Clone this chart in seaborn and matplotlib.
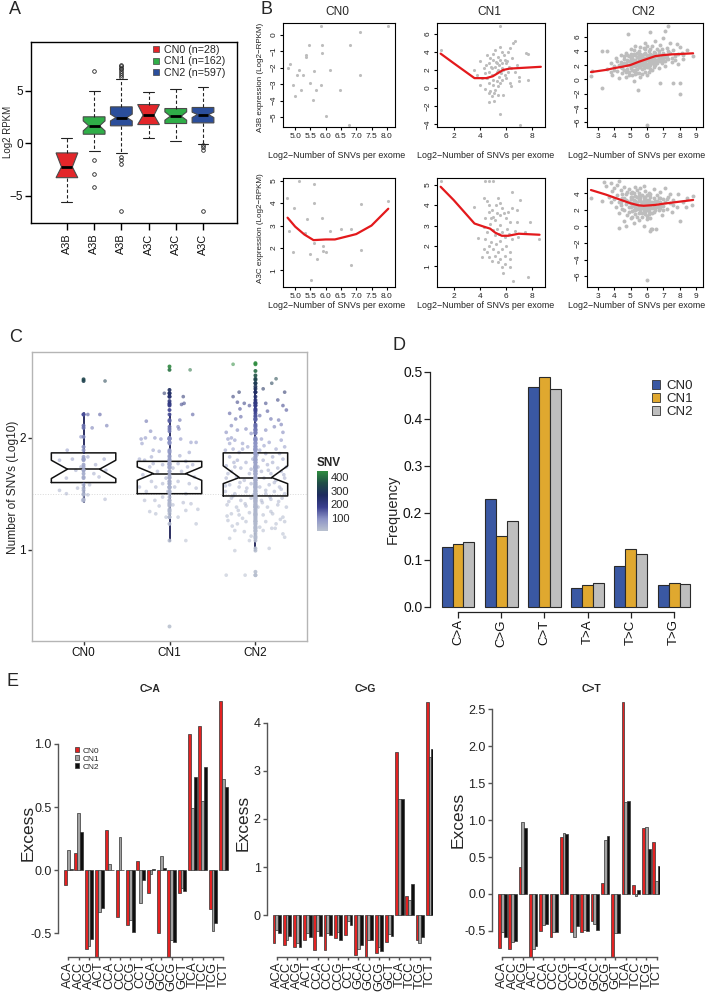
import numpy as np
import pandas as pd
import matplotlib
matplotlib.use('Agg')
import matplotlib.pyplot as plt
import seaborn as sns
from matplotlib.colors import LinearSegmentedColormap, Normalize
from matplotlib.cm import ScalarMappable
from matplotlib.lines import Line2D
from matplotlib.patches import Patch

# ====================== DATA ======================
# ---- Panel A: APOBEC expression boxplots (summary stats)
A_genes = ['A3B', 'A3B', 'A3B', 'A3C', 'A3C', 'A3C']
A_groups = ['CN0', 'CN1', 'CN2', 'CN0', 'CN1', 'CN2']
A_legend = ['CN0 (n=28)', 'CN1 (n=162)', 'CN2 (n=597)']
A_q1 = [-3.28, 0.86, 1.66, 1.78, 1.88, 1.94]
A_med = [-2.26, 1.66, 2.45, 2.68, 2.58, 2.74]
A_q3 = [-0.92, 2.52, 3.47, 3.69, 3.31, 3.41]
A_cilo = [-3.28, 1.18, 2.13, 1.78, 2.20, 2.45]
A_cihi = [-0.92, 2.13, 2.77, 3.69, 2.99, 2.96]
A_wlo = [-5.60, -0.73, -0.89, 0.51, 0.19, -0.10]
A_whi = [0.50, 5.00, 6.11, 4.90, 5.13, 5.38]
A_fliers = [[], [6.88, -1.62, -2.90, -4.17],
            [6.3, 6.5, 6.7, 6.9, 7.1, 7.2, 7.4, 7.5, -1.3, -1.6, -2.0, -6.5],
            [], [], [-0.2, -0.4, -0.6, -6.45]]

# ---- Panel B: expression vs log2 SNVs scatter (x, y) and loess curves
B_A3B_CN0 = [(4.76, -2.02), (4.82, -1.80), (4.92, -3.08), (4.98, -3.75), (5.05, -2.47), (5.11, -2.13),
             (5.19, -3.38), (5.27, -2.47), (5.37, -1.36), (5.37, -1.26), (5.46, -0.61), (5.50, -2.94),
             (5.59, -3.95), (5.61, -2.23), (5.69, -3.38), (5.86, -3.08), (5.86, 0.51), (5.89, -0.61),
             (5.89, -1.11), (6.00, -4.96), (6.13, -2.13), (6.48, -3.38), (6.75, -5.51), (6.80, -0.61),
             (7.11, 0.16), (7.12, -2.47), (8.05, 0.51)]
B_A3C_CN0 = [(4.73, 4.24), (4.80, 2.76), (4.92, 1.81), (4.97, 3.79), (5.11, 4.97), (5.31, 2.65),
             (5.40, 3.28), (5.47, 1.71), (5.60, 4.87), (5.62, 3.99), (5.62, 2.21), (5.71, 1.51),
             (5.51, 0.56), (5.87, 3.35), (5.91, 2.10), (5.91, 1.88), (6.01, 1.81), (6.15, 2.76),
             (6.50, 2.84), (6.83, 2.84), (6.83, 1.26), (7.15, 3.94), (7.16, 1.93), (8.05, 4.09)]
B_A3B_CN1 = [(5.55, 6.84), (1.0, 4.18), (3.55, 2.0), (4.05, 2.98), (4.38, -0.11), (4.75, -1.53), (5.1, -1.45),
             (5.55, -2.84), (7.1, -4.07), (6.55, 5.02), (6.68, 5.16), (7.55, 3.89), (7.72, 3.71), (7.75, 0.87),
             (7.05, 0.73), (6.1, 2.98), (6.18, 4.0),
             (4.55, 3.64), (4.68, 2.73), (4.8, 3.35), (4.93, 2.18), (5.05, 3.71), (5.18, 4.18), (5.25, 2.91),
             (5.3, 1.82), (5.43, 3.45), (5.5, 2.55), (5.6, 3.09), (5.68, 4.0), (5.75, 2.18), (5.85, 3.64),
             (5.93, 1.45), (6.0, 2.73), (6.05, 1.09), (6.25, 2.36), (6.3, 0.55), (6.43, 0.18), (6.5, 3.35),
             (4.43, 1.64), (4.6, 1.09), (4.75, 0.55), (4.8, -0.36), (4.93, 1.45), (5.0, 0.36), (5.05, 0.91),
             (5.13, -0.55), (5.2, -0.18), (5.3, 0.73), (5.38, 0.18), (5.45, 1.27), (5.55, 0.55), (5.63, 1.64),
             (5.7, 0.91), (5.8, 2.0),
             (4.3, 2.18), (4.18, 1.09), (4.05, 0.36), (3.8, 1.45), (4.5, 2.55), (4.68, 1.82), (4.85, 2.36),
             (5.18, 2.36), (5.43, 2.0), (5.68, 2.73), (5.93, 3.09), (6.18, 1.82), (6.43, 2.18), (6.68, 1.82),
             (6.85, 2.55), (7.0, 1.27), (5.0, 3.09), (5.3, 2.73), (5.55, 4.55), (6.35, 4.44), (5.43, -0.73),
             (5.8, -0.73), (4.68, -0.55), (4.93, -0.91)]
B_A3C_CN1 = [(1.0, 5.17), (3.55, 3.93), (4.43, 5.2), (4.68, 5.2), (5.05, 5.17), (6.5, 4.64), (7.1, 4.26),
             (7.85, 3.18), (7.75, 0.49), (6.55, 0.29), (8.55, 2.32), (3.88, 2.4),
             (4.3, 4.34), (4.55, 4.21), (4.75, 4.01), (4.68, 3.68), (4.43, 3.35), (4.93, 3.76), (5.05, 3.43),
             (5.18, 3.26), (5.3, 3.6), (5.43, 4.34), (5.55, 4.09), (5.68, 3.84), (5.85, 3.6), (6.0, 3.35),
             (6.18, 3.68), (6.3, 3.18), (6.48, 3.84), (6.85, 3.76),
             (4.3, 2.93), (4.6, 2.69), (4.8, 3.1), (5.0, 2.77), (5.18, 2.52), (5.3, 2.85), (5.45, 2.6),
             (5.6, 3.02), (5.75, 2.69), (5.93, 2.44), (6.1, 2.85), (6.25, 2.6), (6.68, 2.72), (6.85, 3.15),
             (4.43, 2.36), (4.68, 2.02), (4.85, 2.19), (5.05, 1.86), (5.25, 2.11), (5.43, 1.69), (5.6, 2.22),
             (5.75, 1.86), (5.93, 1.53), (6.05, 2.02), (6.3, 1.69), (6.5, 2.36),
             (4.55, 1.69), (4.75, 1.45), (4.93, 1.28), (5.18, 1.53), (5.38, 1.2), (5.55, 1.36), (5.68, 0.95),
             (5.8, 0.7), (5.93, 1.12), (6.3, 1.36), (6.35, 0.95), (4.18, 1.45), (4.3, 1.86), (5.6, 3.51),
             (5.25, 4.01), (4.9, 3.35), (6.93, 2.44), (7.5, 2.69)]
B_A3B_CN2 = [(2.60, 0.53), (2.65, 1.19), (3.30, -1.24), (3.27, 4.00), (3.55, 4.04), (4.84, 6.47), (5.45, -1.48),
             (6.00, -6.48), (6.16, 6.70), (7.29, 7.54), (7.08, 6.79), (8.00, -2.08), (7.59, -0.54), (6.78, -0.54),
             (8.00, -0.54), (8.78, 3.34),
             (3.6, 1.5), (3.8, 2.4), (3.9, 0.6), (4.0, 1.9), (4.1, 3.0), (4.2, 1.2), (4.2, 2.6), (4.3, 0.2),
             (4.4, 1.7), (4.4, 3.4), (4.5, 2.2), (4.5, 0.9), (4.6, 2.9), (4.6, 1.4), (4.7, 3.8), (4.7, 0.4),
             (4.8, 2.0), (4.8, 2.7), (4.9, 1.1), (4.9, 3.3), (5.0, 2.4), (5.0, 1.6), (5.0, 4.3), (5.1, 0.7),
             (5.1, 2.9), (5.1, 1.9), (5.2, 3.6), (5.2, 2.3), (5.2, -0.2), (5.3, 1.4), (5.3, 2.8), (5.3, 4.8),
             (5.4, 2.1), (5.4, 3.2), (5.4, 0.9), (5.5, 2.6), (5.5, 1.7), (5.5, 4.0), (5.6, 3.0), (5.6, 2.2),
             (5.6, 0.3), (5.7, 3.5), (5.7, 1.5), (5.7, 2.7), (5.8, 4.4), (5.8, 2.0), (5.8, 3.1), (5.9, 1.1),
             (5.9, 2.6), (5.9, 5.2), (6.0, 3.4), (6.0, 2.2), (6.0, 0.6), (6.1, 2.9), (6.1, 4.0), (6.1, 1.7),
             (6.2, 3.6), (6.2, 2.5), (6.3, 3.1), (6.3, 4.7), (6.3, 1.3), (6.4, 2.7), (6.4, 3.9), (6.5, 3.3),
             (6.5, 2.1), (6.5, 5.5), (6.6, 4.3), (6.6, 2.8), (6.7, 3.6), (6.7, 1.6), (6.8, 3.0), (6.8, 4.9),
             (6.9, 2.4), (7.0, 3.8), (7.0, 5.9), (7.1, 3.2), (7.1, 1.9), (7.2, 4.4), (7.3, 2.9), (7.4, 3.7),
             (7.4, 5.2), (7.5, 2.5), (7.6, 4.1), (7.7, 3.3), (7.8, 5.0), (7.9, 2.2), (8.0, 4.6), (8.1, 3.8),
             (8.2, 2.9), (8.4, 4.2), (4.6, 2.4), (4.9, 2.0), (5.1, 2.5), (5.3, 1.9), (5.4, 2.5), (5.6, 2.6),
             (5.7, 2.1), (5.8, 2.5), (6.0, 2.8), (6.2, 2.0), (6.3, 2.6), (5.5, 3.3), (5.9, 3.8), (6.2, 3.2),
             (5.0, 3.0), (4.8, 1.5), (5.2, 1.2), (5.5, 0.9), (6.1, 1.1), (6.4, 1.8), (6.6, 3.3), (6.9, 3.5),
             (7.2, 3.5), (7.0, 2.7), (4.3, 2.1), (4.0, 1.4), (3.8, 1.0),
             (4.4, 2.5), (4.5, 1.6), (4.6, 3.3), (4.7, 2.3), (4.7, 1.1), (4.8, 3.5), (4.9, 2.6), (4.9, 0.6),
             (5.0, 1.9), (5.0, 3.6), (5.1, 1.4), (5.1, 3.3), (5.2, 2.7), (5.2, 4.2), (5.3, 2.3), (5.3, 3.4),
             (5.3, 0.8), (5.4, 1.5), (5.4, 3.8), (5.5, 2.2), (5.5, 2.9), (5.6, 1.8), (5.6, 3.6), (5.6, 4.6),
             (5.7, 2.4), (5.7, 3.0), (5.7, 0.8), (5.8, 1.6), (5.8, 3.6), (5.9, 2.2), (5.9, 3.0), (5.9, 4.3),
             (6.0, 1.8), (6.0, 3.1), (6.0, 4.8), (6.1, 2.4), (6.1, 3.4), (6.2, 1.5), (6.2, 2.8), (6.2, 4.3),
             (6.3, 2.3), (6.3, 3.5), (6.4, 3.0), (6.4, 2.2), (6.5, 2.6), (6.5, 3.8), (6.6, 2.4), (6.7, 3.1),
             (6.7, 4.0), (6.8, 2.6), (6.9, 3.1), (6.9, 4.3), (7.0, 3.3), (7.1, 2.6), (7.2, 3.0), (7.3, 4.0),
             (7.5, 3.1), (7.7, 2.7), (7.9, 3.6), (8.2, 3.4)]
B_A3C_CN2 = [(2.6, 3.44), (3.4, 5.37), (3.3, 3.03), (4.33, 5.53), (4.33, -0.19), (4.73, 0.0), (6.16, -0.52),
             (6.0, -6.44), (8.37, 2.35), (8.71, 2.63), (8.8, 3.7), (6.27, -0.27), (6.57, -0.27), (8.0, 0.61),
             (3.5, 4.9), (3.7, 3.6), (3.8, 2.9), (3.9, 4.3), (4.0, 3.3), (4.1, 2.4), (4.2, 5.0), (4.2, 3.8),
             (4.3, 1.6), (4.3, 2.9), (4.4, 4.4), (4.5, 3.4), (4.5, 2.1), (4.6, 0.7), (4.6, 4.8), (4.7, 2.7),
             (4.7, 3.9), (4.8, 1.4), (4.8, 3.1), (4.9, 4.5), (4.9, 2.3), (5.0, 3.6), (5.0, 1.0), (5.0, 2.8),
             (5.1, 4.2), (5.1, 1.9), (5.2, 3.2), (5.2, 0.4), (5.2, 2.5), (5.3, 4.8), (5.3, 3.7), (5.3, 1.5),
             (5.4, 2.9), (5.4, 2.1), (5.5, 4.1), (5.5, 3.3), (5.5, 0.8), (5.6, 2.6), (5.6, 1.8), (5.6, 4.6),
             (5.7, 3.0), (5.7, 2.2), (5.7, 1.2), (5.8, 3.6), (5.8, 2.7), (5.8, 0.1), (5.9, 4.3), (5.9, 1.9),
             (6.0, 2.4), (6.0, 3.2), (6.0, 0.9), (6.1, 2.9), (6.1, 1.5), (6.1, 4.0), (6.2, 2.2), (6.2, 3.5),
             (6.3, -0.3), (6.3, 2.7), (6.4, 1.8), (6.4, 4.5), (6.5, 3.1), (6.5, 2.4), (6.6, 3.8), (6.7, 2.0),
             (6.8, 2.9), (6.8, 4.2), (6.9, 1.4), (7.0, 3.3), (7.0, 2.5), (7.1, 4.7), (7.2, 2.1), (7.3, 3.6),
             (7.4, 2.8), (7.5, 1.7), (7.6, 3.2), (7.8, 2.4), (7.9, 3.9), (8.2, 2.9), (8.4, 3.4),
             (4.9, 3.0), (5.1, 2.7), (5.3, 2.4), (5.4, 3.6), (5.6, 3.1), (5.7, 2.7), (5.9, 2.9), (6.1, 2.5),
             (6.3, 3.0), (5.2, 2.0), (5.5, 1.6), (5.8, 2.0), (6.0, 1.3), (6.2, 1.0), (6.4, 2.3), (6.7, 3.4),
             (6.9, 2.6), (4.4, 3.0), (4.6, 3.4), (5.0, 4.0), (5.4, 4.4), (5.8, 4.9), (4.0, 4.6), (3.8, 5.2),
             (4.4, 2.6), (4.5, 3.9), (4.6, 2.0), (4.7, 3.2), (4.8, 4.2), (4.9, 1.8), (5.0, 2.3), (5.0, 3.3),
             (5.1, 3.6), (5.1, 1.2), (5.2, 2.9), (5.2, 4.0), (5.3, 2.0), (5.3, 3.1), (5.4, 1.1), (5.4, 2.6),
             (5.5, 2.3), (5.5, 3.7), (5.6, 2.1), (5.6, 3.4), (5.7, 1.6), (5.7, 3.8), (5.8, 2.3), (5.8, 3.2),
             (5.9, 1.5), (5.9, 2.5), (5.9, 3.5), (6.0, 2.0), (6.0, 2.8), (6.0, 3.8), (6.1, 1.9), (6.1, 3.2),
             (6.2, 2.6), (6.2, 3.9), (6.3, 1.6), (6.3, 2.2), (6.4, 2.8), (6.4, 3.4), (6.5, 2.0), (6.5, 2.8),
             (6.6, 2.3), (6.6, 3.1), (6.7, 2.6), (6.8, 3.4), (6.8, 2.2), (7.0, 2.0), (7.1, 2.9), (7.2, 3.3),
             (7.4, 3.9), (7.6, 2.6)]
# loess fits (x, y)
B_fit_A3B_CN0 = []
B_fit_A3C_CN0 = [(4.75, 3.35), (5.0, 2.95), (5.3, 2.6), (5.6, 2.35), (6.0, 2.38), (6.3, 2.38), (6.8, 2.55),
                 (7.0, 2.62), (7.5, 3.0), (8.05, 3.75)]
B_fit_A3B_CN1 = [(1.0, 3.8), (2.0, 2.75), (3.6, 1.1), (4.5, 1.1), (5.0, 1.3), (5.4, 1.65), (5.8, 2.0),
                 (6.3, 2.15), (7.5, 2.25), (8.7, 2.35)]
B_fit_A3C_CN1 = [(1.0, 4.9), (2.0, 4.25), (3.6, 3.1), (4.3, 2.95), (4.8, 2.85), (5.2, 2.65), (5.7, 2.5),
                 (6.2, 2.5), (7.0, 2.6), (8.6, 2.55)]
B_fit_A3B_CN2 = [(2.6, 1.05), (3.5, 1.35), (4.0, 1.6), (4.5, 1.8), (5.0, 2.05), (5.5, 2.5), (6.0, 2.9),
                 (6.5, 3.3), (7.0, 3.45), (7.5, 3.55), (8.0, 3.6), (8.8, 3.7)]
B_fit_A3C_CN2 = [(2.6, 4.4), (3.5, 3.85), (4.0, 3.5), (4.5, 3.15), (5.0, 2.8), (5.5, 2.55), (5.8, 2.5),
                 (6.5, 2.6), (7.0, 2.75), (8.0, 3.0), (8.8, 3.2)]
B_titles = ['CN0', 'CN1', 'CN2']
B_rows = ['A3B expression (Log2\u2212RPKM)', 'A3C expression (Log2\u2212RPKM)']
B_xlabel = 'Log2\u2212Number of SNVs per exome'

# ---- Panel C: log10 SNVs per group; jittered (offset, value) + box stats
C_groups = ['CN0', 'CN1', 'CN2']
C_cn0 = [(0.25, 2.51), (0.05, 2.21), (0.19, 2.21), (0.10, 2.09), (0.27, 2.11), (-0.03, 2.01), (-0.19, 1.89),
         (0.0, 1.92), (0.05, 1.83), (0.24, 1.81), (-0.28, 1.80), (-0.13, 1.81), (0.14, 1.76), (-0.03, 1.74),
         (0.12, 1.68), (-0.20, 1.64), (-0.09, 1.71), (0.26, 1.71), (-0.28, 1.53), (-0.20, 1.50), (-0.07, 1.55),
         (0.07, 1.58), (0.18, 1.65), (0.25, 1.45), (-0.01, 1.44), (0.05, 1.49)]
C_cn1 = [(0.24, 2.61), (-0.06, 2.40), (0.16, 2.37), (0.17, 2.31), (0.14, 2.30), (0.27, 2.21), (-0.27, 2.15),
         (0.12, 2.16), (0.10, 2.10), (0.11, 2.08), (-0.22, 2.06), (-0.28, 2.00), (-0.33, 1.99), (-0.17, 2.00),
         (-0.10, 1.99), (0.13, 1.99), (0.31, 1.96), (0.25, 1.96), (-0.32, 1.95), (-0.19, 1.89), (-0.12, 1.88),
         (0.23, 1.87), (-0.21, 1.83), (0.12, 1.84), (-0.35, 1.81), (-0.29, 1.80), (0.19, 1.79), (-0.19, 1.77),
         (-0.08, 1.76), (0.10, 1.77), (0.27, 1.76), (-0.23, 1.74), (0.04, 1.73), (0.21, 1.74), (-0.14, 1.70),
         (0.14, 1.70), (-0.31, 1.67), (-0.04, 1.64), (0.29, 1.65), (-0.21, 1.61), (0.10, 1.61), (-0.08, 1.59),
         (0.23, 1.59), (-0.35, 1.56), (-0.16, 1.56), (0.06, 1.56), (0.31, 1.55), (-0.27, 1.52), (-0.02, 1.52),
         (0.19, 1.50), (-0.08, 1.47), (-0.29, 1.44), (-0.17, 1.44), (0.16, 1.42), (0.25, 1.41), (-0.12, 1.39),
         (0.04, 1.40), (-0.23, 1.34), (0.19, 1.35), (0.33, 1.36), (-0.16, 1.32), (-0.04, 1.29), (0.10, 1.29),
         (0.31, 1.23), (0.19, 1.08)]
C_cn2 = [(-0.26, 2.66), (0.24, 2.53), (0.19, 2.49), (-0.19, 2.41), (-0.26, 2.37), (0.34, 2.41), (0.09, 2.44),
         (0.26, 2.34), (-0.21, 2.32), (-0.13, 2.31), (-0.07, 2.29), (0.12, 2.31), (0.32, 2.29), (-0.30, 2.22),
         (-0.23, 2.17), (-0.17, 2.19), (0.05, 2.20), (0.18, 2.17), (0.27, 2.16), (0.36, 2.25), (-0.34, 2.05),
         (-0.28, 2.11), (-0.21, 2.07), (-0.11, 2.08), (-0.05, 2.04), (0.12, 2.07), (0.22, 2.10), (0.32, 2.05),
         (-0.32, 1.99), (-0.24, 1.98), (-0.15, 1.95), (0.07, 1.99), (0.16, 1.96), (0.30, 1.98), (0.34, 1.92),
         (-0.35, 1.89), (-0.26, 1.90), (-0.19, 1.87), (-0.09, 1.92), (0.05, 1.89), (0.12, 1.86), (0.24, 1.90),
         (-0.30, 1.83), (-0.21, 1.80), (-0.11, 1.78), (-0.03, 1.81), (0.09, 1.80), (0.20, 1.78), (0.32, 1.81),
         (-0.34, 1.75), (-0.24, 1.74), (-0.17, 1.73), (0.03, 1.74), (0.14, 1.76), (0.26, 1.73), (0.36, 1.74),
         (-0.28, 1.70), (-0.07, 1.68), (0.07, 1.70), (0.18, 1.68), (0.30, 1.70), (-0.34, 1.64), (-0.22, 1.65),
         (-0.13, 1.62), (0.10, 1.64), (0.24, 1.62), (0.34, 1.64), (-0.30, 1.58), (-0.19, 1.56), (-0.05, 1.59),
         (0.05, 1.56), (0.16, 1.58), (0.28, 1.56), (-0.35, 1.52), (-0.24, 1.50), (-0.11, 1.52), (0.12, 1.50),
         (0.22, 1.52), (0.34, 1.50), (-0.28, 1.46), (-0.17, 1.44), (-0.05, 1.46), (0.07, 1.44), (0.18, 1.45),
         (0.31, 1.46), (-0.33, 1.40), (-0.22, 1.38), (-0.11, 1.39), (0.03, 1.38), (0.14, 1.38), (0.26, 1.40),
         (0.36, 1.38), (-0.28, 1.32), (-0.19, 1.31), (-0.07, 1.33), (0.09, 1.31), (0.20, 1.32), (0.32, 1.29),
         (-0.32, 1.26), (-0.21, 1.23), (-0.11, 1.25), (0.12, 1.25), (0.24, 1.23), (0.34, 1.25), (-0.24, 1.17),
         (-0.13, 1.16), (0.09, 1.17), (0.19, 1.19), (0.32, 1.14), (-0.30, 1.10), (-0.07, 1.08), (0.16, 1.01),
         (-0.24, 0.99), (-0.34, 0.77), (-0.12, 0.77),
         (-0.30, 1.95), (-0.15, 1.90), (0.10, 1.93), (0.28, 1.86), (-0.25, 1.78), (0.02, 1.85), (0.20, 1.83),
         (-0.32, 1.68), (-0.05, 1.72), (0.15, 1.71), (0.33, 1.67), (-0.18, 1.60), (0.00, 1.62), (0.22, 1.60),
         (-0.35, 1.57), (-0.10, 1.55), (0.12, 1.53), (0.30, 1.54), (-0.26, 1.48), (-0.02, 1.49), (0.17, 1.47),
         (-0.31, 1.43), (-0.12, 1.41), (0.08, 1.42), (0.27, 1.43), (-0.20, 1.35), (0.00, 1.36), (0.18, 1.34),
         (-0.33, 1.30), (0.29, 1.27), (-0.15, 1.28), (0.05, 1.20), (-0.27, 1.21), (0.23, 1.19), (-0.05, 1.12),
         (0.34, 1.11), (-0.18, 2.26), (0.14, 2.24), (-0.28, 2.00), (0.30, 2.12)]
C_out = [[2.525], [2.64, 2.43, 2.40, 2.37, 2.33, 2.29, 2.25, 0.31], [2.67, 2.60, 2.56, 2.52, 2.49, 2.46, 0.80]]
C_q1 = [1.60, 1.50, 1.48]
C_med = [1.72, 1.68, 1.645]
C_q3 = [1.866, 1.79, 1.866]
C_cilo = [1.636, 1.62, 1.59]
C_cihi = [1.80, 1.74, 1.75]
C_wlo = [1.43, 1.08, 1.00]
C_whi = [2.22, 2.21, 2.44]

# ---- Panel D: substitution frequencies
D_types = ['C>A', 'C>G', 'C>T', 'T>A', 'T>C', 'T>G']
D_cn0 = [0.127, 0.230, 0.467, 0.040, 0.088, 0.046]
D_cn1 = [0.135, 0.151, 0.489, 0.047, 0.123, 0.050]
D_cn2 = [0.138, 0.182, 0.464, 0.051, 0.112, 0.049]

# ---- Panel E: excess per trinucleotide context
E_ctx = ['ACA', 'ACC', 'ACG', 'ACT', 'CCA', 'CCC', 'CCG', 'CCT',
         'GCA', 'GCC', 'GCG', 'GCT', 'TCA', 'TCC', 'TCG', 'TCT']
E_CA_cn0 = [-0.12, 0.14, -0.62, -0.70, 0.32, -0.37, -0.43, 0.07, -0.18, -0.50, -0.70, -0.18, 1.08, 1.14, -0.31, 1.34]
E_CA_cn1 = [0.16, 0.45, -0.60, -0.33, 0.05, 0.26, -0.39, -0.26, -0.03, 0.11, -0.55, -0.14, 0.49, 0.55, -0.48, 0.72]
E_CA_cn2 = [0.01, 0.30, -0.54, -0.30, 0.005, 0.003, -0.49, -0.08, 0.013, 0.016, -0.57, -0.16, 0.74, 0.82, -0.42, 0.66]
E_CG_cn0 = [-0.58, -0.62, -0.65, -0.51, -0.72, -0.72, -0.48, -0.40, -0.82, -0.90, -0.79, -0.55, 3.40, 0.40, -0.51, 4.43]
E_CG_cn1 = [-0.30, -0.51, -0.57, -0.37, -0.32, -0.37, -0.35, -0.11, -0.71, -0.51, -0.65, -0.39, 2.41, 0.32, -0.58, 3.29]
E_CG_cn2 = [-0.37, -0.44, -0.65, -0.46, -0.44, -0.41, -0.51, -0.20, -0.62, -0.51, -0.75, -0.44, 2.41, 0.65, -0.46, 3.45]
E_CT_cn0 = [-0.73, -0.75, 0.36, -0.90, -0.50, -0.58, 0.77, -0.51, -0.51, -0.37, 0.15, -0.90, 2.60, 0.12, 0.89, 0.70]
E_CT_cn1 = [-0.52, -0.65, 0.98, -0.75, -0.42, -0.52, 0.82, -0.58, -0.49, -0.41, 0.73, -0.53, 1.25, -0.03, 0.91, 0.18]
E_CT_cn2 = [-0.58, -0.63, 0.90, -0.70, -0.40, -0.52, 0.81, -0.44, -0.50, -0.49, 0.78, -0.53, 1.26, 0.06, 0.61, 0.38]
E_titles = ['C>A', 'C>G', 'C>T']

# ====================== FIGURE ======================
sns.set_theme(style='ticks')
plt.rcParams['font.family'] = ['Liberation Sans', 'DejaVu Sans']
plt.rcParams['axes.unicode_minus'] = True

W, H = 710, 992
fig = plt.figure(figsize=(W / 100, H / 100), dpi=100)
fig.patch.set_facecolor('white')


def add_px(x0, y0, x1, y1):
    return fig.add_axes([x0 / W, 1 - y1 / H, (x1 - x0) / W, (y1 - y0) / H])


def P(x, y):
    return (x / W, 1 - y / H)


def ftext(x, y, s, **kw):
    fig.text(x / W, 1 - y / H, s, **kw)


def frame(ax, color='black', lw=0.8, fs=7, tl=3, lc='#111111'):
    for s in ax.spines.values():
        s.set_visible(True)
        s.set_color(color)
        s.set_linewidth(lw)
    ax.tick_params(direction='out', length=tl, width=lw, color=color, labelsize=fs,
                   labelcolor=lc, pad=1.5, bottom=True, left=True, top=False, right=False)
    ax.set_facecolor('white')
    ax.grid(False)


def mlabels(vals, fmt):
    return [fmt.format(v).replace('-', '\u2212') for v in vals]


# panel letters
for lt, (lx, ly) in zip('ABCDE', [(15, 10), (266, 9), (16, 337), (399, 345), (13, 681)]):
    ftext(lx, ly, lt, fontsize=13, ha='center', va='center')

# ---------------- Panel A ----------------
A_colors = {'CN0': '#E3262A', 'CN1': '#2FAE48', 'CN2': '#2B4E9B'}
axA = add_px(31, 42, 237, 223)
statsA = [dict(med=A_med[i], q1=A_q1[i], q3=A_q3[i], whislo=A_wlo[i], whishi=A_whi[i],
               cilo=A_cilo[i], cihi=A_cihi[i], fliers=A_fliers[i]) for i in range(6)]
bpA = axA.bxp(statsA, positions=range(1, 7), widths=0.8, shownotches=True, patch_artist=True,
              manage_ticks=False,
              boxprops=dict(edgecolor='#4a4a4a', linewidth=0.8),
              medianprops=dict(color='black', linewidth=2.0),
              whiskerprops=dict(color='#222222', linewidth=0.8, linestyle=(0, (3, 2))),
              capprops=dict(color='#222222', linewidth=0.8),
              flierprops=dict(marker='o', markersize=2.6, markerfacecolor='none',
                              markeredgecolor='#222222', markeredgewidth=0.6))
for patch, g in zip(bpA['boxes'], A_groups):
    patch.set_facecolor(A_colors[g])
axA.set_xlim(-0.32, 7.25)
axA.set_ylim(-7.6, 9.65)
frame(axA, lw=1.0, fs=8.5, tl=4)
axA.set_yticks([-5, 0, 5])
axA.set_yticklabels(mlabels([-5, 0, 5], '{:d}'))
axA.set_xticks(range(1, 7))
axA.set_xticklabels(A_genes, rotation=90, fontsize=7.8)
axA.tick_params(axis='x', pad=2.5, length=5)
ftext(8, 132, 'Log2 RPKM', rotation=90, fontsize=7, ha='center', va='center')
hA = [Line2D([], [], marker='s', ls='', markersize=5, markerfacecolor=A_colors[g],
             markeredgecolor='#444444', markeredgewidth=0.5) for g in ['CN0', 'CN1', 'CN2']]
axA.legend(hA, A_legend, loc='upper left', bbox_to_anchor=P(152, 45), bbox_transform=fig.transFigure,
           frameon=False, fontsize=7.7, handlelength=0.7, handletextpad=0.4, labelspacing=0.12,
           borderpad=0, borderaxespad=0)

# ---------------- Panel B ----------------
B_cols = [(283, 395), (437, 545), (587, 703)]
B_rowsy = [(23, 127), (178, 287)]
B_data = [[B_A3B_CN0, B_A3B_CN1, B_A3B_CN2], [B_A3C_CN0, B_A3C_CN1, B_A3C_CN2]]
B_fits = [[B_fit_A3B_CN0, B_fit_A3B_CN1, B_fit_A3B_CN2], [B_fit_A3C_CN0, B_fit_A3C_CN1, B_fit_A3C_CN2]]
B_xlim = [(4.60, 8.27), (0.72, 9.02), (2.36, 9.40)]
B_xt = [np.arange(5.0, 8.01, 0.5), [2, 4, 6, 8], [3, 4, 5, 6, 7, 8, 9]]
B_ylim = [[(-5.61, 0.71), (-4.29, 7.18), (-6.71, 7.98)], [(0.26, 5.12), (-0.01, 5.33), (-7.3, 5.85)]]
B_yt = [[range(-5, 1), range(-4, 7, 2), range(-6, 7, 2)], [range(1, 6), range(1, 6), range(-6, 5, 2)]]
B_size = [5, 5, 8]
B_xlab_cx = [337, 486, 637]
for r in range(2):
    for c in range(3):
        ax = add_px(B_cols[c][0], B_rowsy[r][0], B_cols[c][1], B_rowsy[r][1])
        pts = B_data[r][c]
        sns.scatterplot(x=[p[0] for p in pts], y=[p[1] for p in pts], color='#BDBDBD', s=B_size[c],
                        linewidth=0, ax=ax, zorder=2)
        fit = B_fits[r][c]
        if fit:
            sns.lineplot(x=[p[0] for p in fit], y=[p[1] for p in fit], sort=False, estimator=None,
                         color='#E3191C', linewidth=1.6, ax=ax, zorder=3)
        ax.set_xlim(*B_xlim[c])
        ax.set_ylim(*B_ylim[r][c])
        frame(ax, lw=0.8, fs=6, tl=2.5, lc='#222222')
        ax.set_xticks(B_xt[c])
        if c == 0:
            ax.set_xticklabels(['{:.1f}'.format(v) for v in B_xt[c]])
        else:
            ax.set_xticklabels([str(v) for v in B_xt[c]])
        yt = list(B_yt[r][c])
        ax.set_yticks(yt)
        ax.set_yticklabels(mlabels(yt, '{:d}'), rotation=90, va='center')
        ax.set_xlabel('')
        ax.set_ylabel('')
        ftext(B_xlab_cx[c], 155 if r == 0 else 306, B_xlabel, fontsize=6.4, ha='center', va='center',
              color='#222222')
        if r == 0:
            ftext((B_cols[c][0] + B_cols[c][1]) / 2 - 2, 12, B_titles[c], fontsize=8.6, ha='center', va='center')
for r, yc in enumerate([77, 228]):
    ftext(260, yc, B_rows[r], rotation=90, fontsize=5.8, ha='center', va='center', color='#222222')

# ---------------- Panel C ----------------
axC = add_px(32, 352, 307, 641)
cmapC = LinearSegmentedColormap.from_list('snv', ['#b9c1cf', '#8c93c6', '#3a3f8e', '#1e2b5e', '#1f4d46', '#2f8c3f'])
normC = Normalize(vmin=2, vmax=445)
axC.axhline(1.5, color='#d9d9d9', linestyle=':', linewidth=0.7, zorder=0)
C_all = [C_cn0, C_cn1, C_cn2]
for i, grp in enumerate(C_all):
    dx = np.array([p[0] for p in grp])
    yy = np.array([p[1] for p in grp])
    dfj = pd.DataFrame({'x': i + 1 + dx, 'y': yy, 'snv': 10 ** yy})
    sns.scatterplot(data=dfj, x='x', y='y', hue='snv', palette=cmapC, hue_norm=normC, s=7,
                    alpha=0.55, linewidth=0, legend=False, ax=axC, zorder=2)
statsC = [dict(med=C_med[i], q1=C_q1[i], q3=C_q3[i], whislo=C_wlo[i], whishi=C_whi[i],
               cilo=C_cilo[i], cihi=C_cihi[i], fliers=[]) for i in range(3)]
axC.bxp(statsC, positions=[1, 2, 3], widths=0.75, shownotches=True, patch_artist=False,
        showcaps=False, showfliers=False, manage_ticks=False,
        boxprops=dict(color='#111111', linewidth=1.1),
        medianprops=dict(color='#111111', linewidth=1.1),
        whiskerprops=dict(color='#1b1f55', linewidth=1.3), zorder=3)
for i, grp in enumerate(C_all):
    yc = np.array([p[1] for p in grp] + C_out[i])
    if i == 2:
        axC.plot([i + 1, i + 1], [C_q1[i], C_q3[i]], color='#3a4585', linewidth=1.0, zorder=3.5)
    dfc = pd.DataFrame({'x': np.full(len(yc), i + 1.0), 'y': yc, 'snv': 10 ** yc})
    sns.scatterplot(data=dfc, x='x', y='y', hue='snv', palette=cmapC, hue_norm=normC, s=8,
                    alpha=0.9, linewidth=0, legend=False, ax=axC, zorder=4)
axC.set_xlim(0.4, 3.6)
axC.set_ylim(0.18, 2.77)
frame(axC, color='#b5b5b5', lw=1.0, fs=8.5, tl=3, lc='#111111')
axC.tick_params(color='#333333')
axC.set_xticks([1, 2, 3])
axC.set_xticklabels(C_groups)
axC.set_yticks([1, 2])
axC.set_yticklabels(['1', '2'])
axC.set_xlabel('')
axC.set_ylabel('')
ftext(13, 487, 'Number of SNVs (Log10)', rotation=90, fontsize=8.6, ha='center', va='center')
cax = add_px(317, 471, 328, 531)
cb = fig.colorbar(ScalarMappable(norm=normC, cmap=cmapC), cax=cax)
cb.set_ticks([100, 200, 300, 400])
cb.outline.set_visible(False)
cax.tick_params(labelsize=8, length=2.5, color='white', direction='in', pad=2, right=True, left=False)
ftext(317, 463, 'SNV', fontsize=8.5, fontweight='bold', ha='left', va='center')

# ---------------- Panel D ----------------
axD = add_px(430, 360, 700, 611.7)
D_colors = ['#3A58A3', '#E0A82F', '#BEBEBE']
dfD = pd.DataFrame({'type': D_types * 3,
                    'cn': ['CN0'] * 6 + ['CN1'] * 6 + ['CN2'] * 6,
                    'freq': D_cn0 + D_cn1 + D_cn2})
sns.barplot(data=dfD, x='type', y='freq', hue='cn', hue_order=['CN0', 'CN1', 'CN2'], palette=D_colors,
            saturation=1, width=0.76, edgecolor='#2a2a2a', linewidth=0.8, errorbar=None,
            legend=False, ax=axD)
axD.set_xlim(-0.648, 5.6)
axD.set_ylim(-0.01, 0.5255)
frame(axD, color='#222222', lw=0.9, fs=10, tl=4, lc='#111111')
axD.spines['top'].set_visible(False)
axD.spines['right'].set_visible(False)
axD.spines['left'].set_bounds(0, 0.5)
axD.spines['bottom'].set_bounds(0, 5)
axD.set_yticks(np.arange(0, 0.51, 0.1))
axD.set_yticklabels(['{:.1f}'.format(v) for v in np.arange(0, 0.51, 0.1)])
axD.set_xticks(range(6))
axD.set_xticklabels(D_types, rotation=90, fontsize=9.5)
axD.set_xlabel('')
axD.set_ylabel('')
ftext(393, 509, 'Frequency', rotation=90, fontsize=10.5, ha='center', va='center')
hD = [Patch(facecolor=c, edgecolor='#333333', linewidth=0.6) for c in D_colors]
axD.legend(hD, ['CN0', 'CN1', 'CN2'], loc='upper left', bbox_to_anchor=P(652, 380),
           bbox_transform=fig.transFigure, frameon=False, fontsize=9.5, handlelength=0.6,
           handleheight=0.7, handletextpad=0.5, labelspacing=0.05, borderpad=0, borderaxespad=0)

# ---------------- Panel E ----------------
E_colors = ['#E32222', '#A3A3A3', '#0E0E0E']
E_sets = [(E_CA_cn0, E_CA_cn1, E_CA_cn2), (E_CG_cn0, E_CG_cn1, E_CG_cn2), (E_CT_cn0, E_CT_cn1, E_CT_cn2)]
E_rects = [(58, 698.5, 230, 956.7), (267, 700, 433, 956.7), (491.7, 700, 660, 956.7)]
E_xlim = [(-1.0, 15.65), (-0.95, 15.29), (-1.03, 15.33)]
E_ylim = [(-0.684, 1.36), (-0.86, 4.47), (-0.849, 2.626)]
E_yt = [[-0.5, 0.0, 0.5, 1.0], [0, 1, 2, 3, 4], [-0.5, 0.0, 0.5, 1.0, 1.5, 2.0, 2.5]]
E_yfmt = ['{:.1f}', '{:d}', '{:.1f}']
E_titlex = [150, 365, 592]
E_ylabx = [28, 243, 458]
E_ylaby = [833, 823, 820]
for k in range(3):
    ax = add_px(*E_rects[k])
    c0, c1, c2 = E_sets[k]
    dfE = pd.DataFrame({'ctx': E_ctx * 3, 'cn': ['CN0'] * 16 + ['CN1'] * 16 + ['CN2'] * 16,
                        'val': list(c0) + list(c1) + list(c2)})
    sns.barplot(data=dfE, x='ctx', y='val', hue='cn', hue_order=['CN0', 'CN1', 'CN2'], palette=E_colors,
                saturation=1, width=0.82, edgecolor='#333333', linewidth=0.5, errorbar=None,
                legend=False, ax=ax)
    ax.set_xlim(*E_xlim[k])
    ax.set_ylim(*E_ylim[k])
    frame(ax, color='#555555', lw=1.0, fs=9, tl=3, lc='#222222')
    ax.spines['top'].set_visible(False)
    ax.spines['right'].set_visible(False)
    ax.spines['left'].set_bounds(E_yt[k][0], E_yt[k][-1])
    ax.spines['bottom'].set_bounds(0, 15)
    ax.set_yticks(E_yt[k])
    ax.set_yticklabels([E_yfmt[k].format(v) for v in E_yt[k]])
    ax.set_xticks(range(16))
    ax.set_xticklabels(E_ctx, rotation=90, fontsize=9.3)
    ax.tick_params(axis='x', pad=1, length=2.5)
    ax.set_xlabel('')
    ax.set_ylabel('')
    ftext(E_titlex[k], 689, E_titles[k], fontsize=7.5, fontweight='bold', ha='center', va='center')
    ftext(E_ylabx[k], E_ylaby[k], 'Excess', rotation=90, fontsize=12.5, ha='center', va='center')
    if k == 0:
        hE = [Patch(facecolor=c, edgecolor='#333333', linewidth=0.5) for c in E_colors]
        ax.legend(hE, ['CN0', 'CN1', 'CN2'], loc='upper left', bbox_to_anchor=P(75, 747),
                  bbox_transform=fig.transFigure, frameon=False, fontsize=6, handlelength=0.5,
                  handleheight=0.6, handletextpad=0.4, labelspacing=0.05, borderpad=0, borderaxespad=0)

fig.savefig('out.png', dpi=100, facecolor='white')
